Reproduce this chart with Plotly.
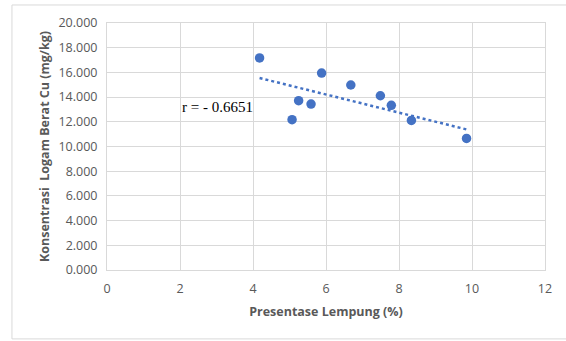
import numpy as np
import plotly.graph_objects as go

# Clay percentage vs. Cu concentration
lempung = [4.18, 5.07, 5.25, 5.59, 5.88, 6.68, 7.49, 7.79, 8.34, 9.85]
cu = [17.17, 12.17, 13.71, 13.44, 15.95, 14.98, 14.11, 13.33, 12.11, 10.65]
r_label = "r = - 0.6651"

x_ticks = [0, 2, 4, 6, 8, 10, 12]
y_ticks = [0, 2, 4, 6, 8, 10, 12, 14, 16, 18, 20]

blue = "#4472C4"
grey_txt = "#595959"
grid = "#d9d9d9"

# Least-squares linear trend
slope, intercept = np.polyfit(lempung, cu, 1)
tx = np.array([min(lempung), max(lempung)])
ty = slope * tx + intercept

fig = go.Figure()
fig.add_trace(go.Scatter(
    x=tx, y=ty, mode="lines",
    line=dict(color=blue, width=2.5, dash="dot"),
    hoverinfo="skip", showlegend=False,
))
fig.add_trace(go.Scatter(
    x=lempung, y=cu, mode="markers",
    marker=dict(color=blue, size=9.5),
    showlegend=False,
))

fig.add_annotation(
    x=2.0, y=13.2, text=r_label, showarrow=False,
    xanchor="left", yanchor="middle",
    font=dict(family="Liberation Serif", size=15, color="#000000"),
)

# Chart-area border
fig.add_shape(
    type="rect", xref="paper", yref="paper",
    x0=-0.217, x1=1.2, y0=-0.279, y1=1.073,
    line=dict(color="#d9d9d9", width=1), layer="below",
)

fig.update_xaxes(
    range=[0, 12], tickvals=x_ticks, ticktext=[str(v) for v in x_ticks],
    showgrid=True, gridcolor=grid, gridwidth=1,
    showline=True, linecolor=grid, mirror=True, zeroline=False,
    ticks="", ticklabelstandoff=7,
    tickfont=dict(family="Open Sans", size=12.5, color=grey_txt),
    title=dict(text="<b>Presentase Lempung (%)</b>", standoff=11,
               font=dict(family="Open Sans", size=12.5, color=grey_txt)),
)
fig.update_yaxes(
    range=[0, 20], tickvals=y_ticks, ticktext=[f"{v:.3f}" for v in y_ticks],
    showgrid=True, gridcolor=grid, gridwidth=1,
    showline=True, linecolor=grid, mirror=True, zeroline=False,
    ticks="", ticklabelstandoff=6,
    tickfont=dict(family="Open Sans", size=12.5, color=grey_txt),
    title=dict(text="<b>Konsentrasi  Logam Berat Cu (mg/kg)</b>", standoff=6,
               font=dict(family="Open Sans", size=12.5, color=grey_txt)),
)

fig.update_layout(
    width=566, height=341,
    margin=dict(l=107, r=21, t=23, b=71),
    paper_bgcolor="white", plot_bgcolor="white",
)

fig.write_html("out.html")
